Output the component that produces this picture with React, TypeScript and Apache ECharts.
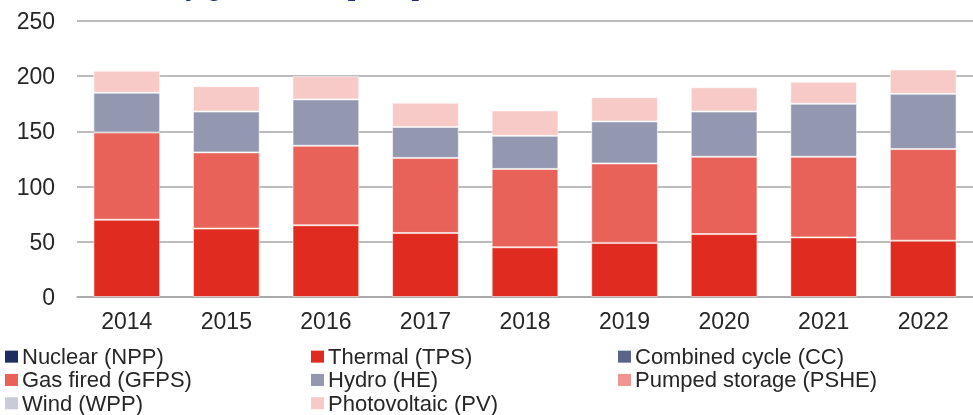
import React, { useEffect, useRef } from "react";
import * as echarts from "echarts";

const years = ["2014", "2015", "2016", "2017", "2018", "2019", "2020", "2021", "2022"];
const nuclear = [0, 0, 0, 0, 0, 0, 0, 0, 0];
const thermal = [70, 62, 65, 58, 45, 49, 57, 54, 51];
const combinedCycle = [0, 0, 0, 0, 0, 0, 0, 0, 0];
const gasFired = [79, 69, 72, 68, 71, 72, 70, 73, 83];
const hydro = [36, 37, 42, 28, 30, 38, 41, 48, 50];
const pumpedStorage = [0, 0, 0, 0, 0, 0, 0, 0, 0];
const wind = [0, 0, 0, 0, 0, 0, 0, 0, 0];
const photovoltaic = [20, 23, 21, 22, 23, 22, 22, 20, 22];
const yTicks = { min: 0, max: 250, interval: 50 };

const seriesDefs = [
  { name: "Nuclear (NPP)", data: nuclear, color: "#1F2D5E" },
  { name: "Thermal (TPS)", data: thermal, color: "#E02B20" },
  { name: "Combined cycle (CC)", data: combinedCycle, color: "#5A6388" },
  { name: "Gas fired (GFPS)", data: gasFired, color: "#E8625A" },
  { name: "Hydro (HE)", data: hydro, color: "#9398B0" },
  { name: "Pumped storage (PSHE)", data: pumpedStorage, color: "#F0958F" },
  { name: "Wind (WPP)", data: wind, color: "#C9CBD8" },
  { name: "Photovoltaic (PV)", data: photovoltaic, color: "#F7C9C7" },
];

const FONT = "'Liberation Sans', Arial, sans-serif";

export default function App() {
  const ref = useRef<HTMLDivElement>(null);
  useEffect(() => {
    if (!ref.current) return;
    const chart = echarts.init(ref.current, undefined, { renderer: "svg" });
    const legendBase = {
      orient: "vertical" as const,
      top: 345,
      padding: 0,
      itemGap: 0,
      itemWidth: 13,
      itemHeight: 12,
      itemStyle: { borderWidth: 0 },
      icon: "rect",
      selectedMode: false,
      textStyle: { fontSize: 22, color: "#262626", fontFamily: FONT, lineHeight: 23.3, padding: [0, 0, 0, -1] },
    };
    chart.setOption({
      animation: false,
      textStyle: { fontFamily: FONT },
      grid: { left: 77, right: 0, top: 21, bottom: 118, containLabel: false },
      legend: [
        { ...legendBase, left: 5, data: ["Nuclear (NPP)", "Gas fired (GFPS)", "Wind (WPP)"] },
        { ...legendBase, left: 311, data: ["Thermal (TPS)", "Hydro (HE)", "Photovoltaic (PV)"] },
        { ...legendBase, left: 618, data: ["Combined cycle (CC)", "Pumped storage (PSHE)"] },
      ],
      graphic: [
        {
          type: "text",
          left: 75,
          top: -26,
          style: {
            text: "Electricity generation [TWh]",
            fontSize: 26,
            fontWeight: "bold",
            fill: "#1F2D6A",
            fontFamily: FONT,
          },
        },
      ],
      xAxis: {
        type: "category",
        data: years,
        axisLine: { lineStyle: { color: "#A6A6A6", width: 1.5 } },
        axisTick: { show: false },
        axisLabel: { fontSize: 23, color: "#262626", margin: 12, fontFamily: FONT },
      },
      yAxis: {
        type: "value",
        min: yTicks.min,
        max: yTicks.max,
        interval: yTicks.interval,
        axisLine: { show: false },
        axisTick: { show: false },
        axisLabel: { fontSize: 23, color: "#262626", margin: 22, fontFamily: FONT },
        splitLine: { lineStyle: { color: "#A6A6A6", width: 1.5 } },
      },
      series: seriesDefs.map((s) => {
        const nonzero = s.data.some((v) => v > 0);
        return {
          name: s.name,
          type: "bar",
          stack: "total",
          barWidth: "67%",
          data: s.data,
          itemStyle: {
            color: s.color,
            borderColor: "rgba(255,255,255,0.55)",
            borderWidth: nonzero ? 1 : 0,
          },
        };
      }),
    });
    return () => chart.dispose();
  }, []);
  return (
    <div
      ref={ref}
      style={{ position: "fixed", left: 0, top: 0, width: 973, height: 415 }}
    />
  );
}
